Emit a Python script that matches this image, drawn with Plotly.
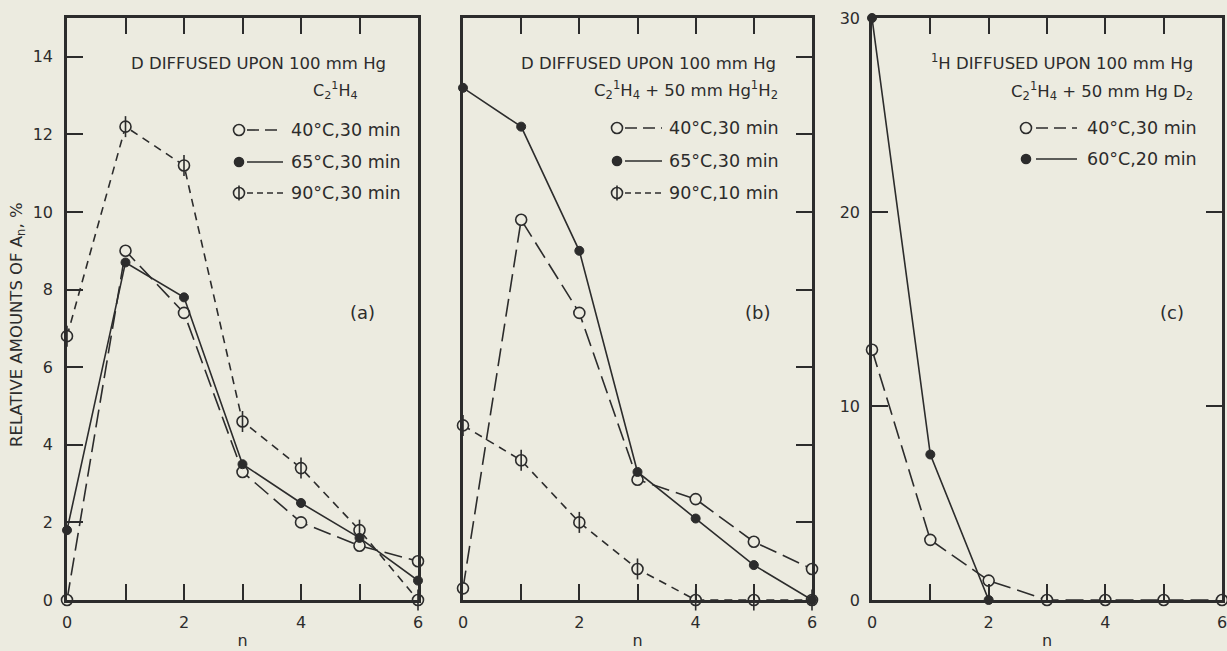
import plotly.graph_objects as go

# ---------------- data ----------------
n = [0, 1, 2, 3, 4, 5, 6]
a_40 = [0.0, 9.0, 7.4, 3.3, 2.0, 1.4, 1.0]
a_65 = [1.8, 8.7, 7.8, 3.5, 2.5, 1.6, 0.5]
a_90 = [6.8, 12.2, 11.2, 4.6, 3.4, 1.8, 0.0]
b_40 = [0.3, 9.8, 7.4, 3.1, 2.6, 1.5, 0.8]
b_65 = [13.2, 12.2, 9.0, 3.3, 2.1, 0.9, 0.0]
b_90 = [4.5, 3.6, 2.0, 0.8, 0.0, 0.0, 0.0]
c_40 = [12.9, 3.1, 1.0, 0.0, 0.0, 0.0, 0.0]
n_c60 = [0, 1, 2]
c_60 = [30.0, 7.5, 0.0]

legend_a = ["40°C,30 min", "65°C,30 min", "90°C,30 min"]
legend_b = ["40°C,30 min", "65°C,30 min", "90°C,10 min"]
legend_c = ["40°C,30 min", "60°C,20 min"]

x_tickvals = [0, 1, 2, 3, 4, 5, 6]
x_ticktext = ["0", "", "2", "", "4", "", "6"]
ab_y_tickvals = [0, 2, 4, 6, 8, 10, 12, 14]
c_y_tickvals = [0, 10, 20, 30]

# ---------------- style ----------------
W, H = 1227, 651
BG = "#ecebe0"
INK = "#2c2c2c"
FONT = "DejaVu Sans"
LW = 1.6
DASH_LONG = "18px,7px"
DASH_SHORT = "8px,6px"


def PX(x):
    return x / W


def PY(y):
    return 1 - y / H


fig = go.Figure()


def add_series(xs, ys, kind, axis):
    xa, ya = axis
    if kind == "open":
        fig.add_trace(go.Scatter(x=xs, y=ys, mode="lines+markers", xaxis=xa, yaxis=ya,
                                 line=dict(color=INK, width=LW, dash=DASH_LONG),
                                 marker=dict(symbol="circle", size=11, color=BG,
                                             line=dict(color=INK, width=1.6)),
                                 cliponaxis=False, showlegend=False))
    elif kind == "filled":
        fig.add_trace(go.Scatter(x=xs, y=ys, mode="lines+markers", xaxis=xa, yaxis=ya,
                                 line=dict(color=INK, width=LW),
                                 marker=dict(symbol="circle", size=9, color=INK,
                                             line=dict(color=INK, width=1)),
                                 cliponaxis=False, showlegend=False))
    else:  # phi marker
        fig.add_trace(go.Scatter(x=xs, y=ys, mode="lines+markers", xaxis=xa, yaxis=ya,
                                 line=dict(color=INK, width=LW, dash=DASH_SHORT),
                                 marker=dict(symbol="circle", size=11, color=BG,
                                             line=dict(color=INK, width=1.6)),
                                 cliponaxis=False, showlegend=False))
        fig.add_trace(go.Scatter(x=xs, y=ys, mode="markers", xaxis=xa, yaxis=ya,
                                 marker=dict(symbol="line-ns-open", size=15, color=INK,
                                             line=dict(color=INK, width=1.6)),
                                 cliponaxis=False, showlegend=False, hoverinfo="skip"))


add_series(n, a_90, "phi", ("x", "y"))
add_series(n, a_40, "open", ("x", "y"))
add_series(n, a_65, "filled", ("x", "y"))
add_series(n, b_90, "phi", ("x2", "y2"))
add_series(n, b_40, "open", ("x2", "y2"))
add_series(n, b_65, "filled", ("x2", "y2"))
add_series(n, c_40, "open", ("x3", "y3"))
add_series(n_c60, c_60, "filled", ("x3", "y3"))

# ---------------- axes ----------------
ybot, ytop = 600, 18

tickfont = dict(family=FONT, size=16, color=INK)
xcommon = dict(range=[0, 6], tickvals=x_tickvals, ticktext=x_ticktext, ticks="inside",
               ticklen=16, tickwidth=2, tickcolor=INK, showline=True, linecolor=INK,
               linewidth=2.5, mirror="ticks", showgrid=False, zeroline=False,
               tickfont=tickfont, automargin=False, ticklabelstandoff=6,
               ticklabeloverflow="allow",
               title=dict(text="n", font=dict(family=FONT, size=16, color=INK), standoff=4))

fig.update_layout(
    xaxis=dict(domain=[PX(67), PX(418)], anchor="y", **xcommon),
    xaxis2=dict(domain=[PX(463), PX(812)], anchor="y2", **xcommon),
    xaxis3=dict(domain=[PX(872), PX(1222)], anchor="y3", **xcommon),
    yaxis=dict(domain=[PY(ybot), PY(ytop)], anchor="x", range=[0, 15],
               tickvals=ab_y_tickvals, ticks="inside", ticklen=16, tickwidth=2,
               tickcolor=INK, showline=True, linecolor=INK, linewidth=2.5, mirror=True,
               showgrid=False, zeroline=False, tickfont=tickfont, automargin=False,
               ticklabelstandoff=8),
    yaxis2=dict(domain=[PY(ybot), PY(ytop)], anchor="x2", range=[0, 15], side="right",
                tickvals=ab_y_tickvals, ticks="inside", ticklen=16, tickwidth=2,
                tickcolor=INK, showline=True, linecolor=INK, linewidth=2.5, mirror=True,
                showticklabels=False, showgrid=False, zeroline=False, automargin=False),
    yaxis3=dict(domain=[PY(ybot), PY(ytop)], anchor="x3", range=[0, 30],
                tickvals=c_y_tickvals, ticks="inside", ticklen=16, tickwidth=2,
                tickcolor=INK, showline=True, linecolor=INK, linewidth=2.5,
                mirror="ticks", showgrid=False, zeroline=False, tickfont=tickfont,
                automargin=False, ticklabelstandoff=6),
)

# ---------------- text annotations ----------------
ann = []


def txt(text, x, y, xanchor="center", size=15, angle=0):
    ann.append(dict(text=text, x=PX(x), y=PY(y), xref="paper", yref="paper",
                    xanchor=xanchor, yanchor="middle", showarrow=False, textangle=angle,
                    font=dict(family=FONT, size=size, color=INK)))


txt("RELATIVE AMOUNTS OF A<sub>n</sub>, %", 17, 325, size=16.5, angle=-90)
txt("D DIFFUSED UPON 100 mm Hg", 388, 63, "right", size=16.5)
txt("C<sub>2</sub><sup>1</sup>H<sub>4</sub>", 360, 90, "right", size=16)
txt("D DIFFUSED UPON 100 mm Hg", 778, 63, "right", size=16.5)
txt("C<sub>2</sub><sup>1</sup>H<sub>4</sub> + 50 mm Hg<sup>1</sup>H<sub>2</sub>", 780, 90, "right", size=16.5)
txt("<sup>1</sup>H DIFFUSED UPON 100 mm Hg", 1195, 62, "right", size=16.5)
txt("C<sub>2</sub><sup>1</sup>H<sub>4</sub> + 50 mm Hg D<sub>2</sub>", 1195, 91, "right", size=16.5)
txt("(a)", 362, 313, size=18)
txt("(b)", 757, 313, size=18)
txt("(c)", 1172, 313, size=18)

# ---------------- manual legends ----------------
shapes = []


def leg_row(label, kind, mx, lx0, lx1, tx, y):
    if kind == "open":
        dash, fill, r = "12px,6px", BG, 5.5
    elif kind == "filled":
        dash, fill, r = "solid", INK, 4.5
    else:
        dash, fill, r = "6px,4px", BG, 5.5
    shapes.append(dict(type="line", xref="paper", yref="paper", x0=PX(lx0), x1=PX(lx1),
                       y0=PY(y), y1=PY(y), line=dict(color=INK, width=LW, dash=dash)))
    shapes.append(dict(type="circle", xref="paper", yref="paper", xsizemode="pixel",
                       ysizemode="pixel", xanchor=PX(mx), yanchor=PY(y), x0=-r, x1=r,
                       y0=-r, y1=r, fillcolor=fill, line=dict(color=INK, width=1.6)))
    if kind == "phi":
        shapes.append(dict(type="line", xref="paper", yref="paper", x0=PX(mx), x1=PX(mx),
                           y0=PY(y - 7.5), y1=PY(y + 7.5), line=dict(color=INK, width=1.6)))
    txt(label, tx, y, "left", size=17.5)


kinds3 = ["open", "filled", "phi"]
for lab, k, y in zip(legend_a, kinds3, [130, 162, 193]):
    leg_row(lab, k, 239, 247, 283, 289, y)
for lab, k, y in zip(legend_b, kinds3, [128, 161, 193]):
    leg_row(lab, k, 617, 625, 662, 667, y)
for lab, k, y in zip(legend_c, ["open", "filled"], [128, 159]):
    leg_row(lab, k, 1026, 1036, 1077, 1085, y)

fig.update_layout(
    width=W, height=H, margin=dict(l=0, r=0, t=0, b=0),
    paper_bgcolor=BG, plot_bgcolor=BG, annotations=ann, shapes=shapes,
    font=dict(family=FONT, color=INK),
)

fig.write_html("out.html", config={"displayModeBar": False},
               post_script="document.body.style.margin='0';document.body.style.background='" + BG + "';")
